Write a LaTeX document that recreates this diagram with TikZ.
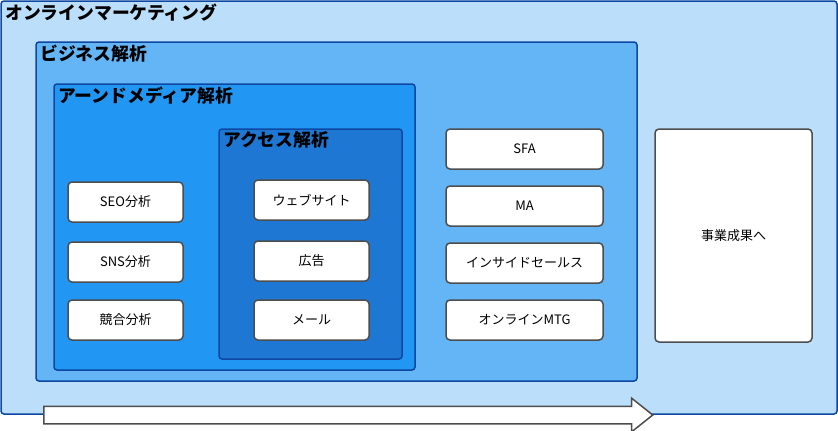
\documentclass[tikz,border=0pt]{standalone}
\usepackage{fontspec}
\setmainfont{Noto Sans CJK JP}
\usetikzlibrary{shapes.arrows}
\definecolor{outerfill}{HTML}{BBDEFB}
\definecolor{bizfill}{HTML}{64B5F6}
\definecolor{earnfill}{HTML}{2196F3}
\definecolor{accfill}{HTML}{1E78D3}
\definecolor{frame}{HTML}{0D47A1}
\definecolor{boxline}{HTML}{4D4D4D}
\begin{document}
\begin{tikzpicture}[x=1pt,y=-1pt,
  container/.style={draw=frame, line width=1.5pt, rounded corners=3pt, inner sep=0pt},
  item/.style={draw=boxline, fill=white, line width=1.5pt, rounded corners=4pt, inner sep=0pt, font=\fontsize{13}{15}\selectfont},
  title/.style={anchor=west, inner sep=0pt, font=\fontsize{17.8}{20}\selectfont\bfseries}]
\useasboundingbox (0,0) rectangle (838,431);
% containers
\node[container, fill=outerfill, minimum width=836pt, minimum height=413pt] (outer) at (419,207.5) {};
\node[container, fill=bizfill, minimum width=601pt, minimum height=339pt] (biz) at (336.5,211.5) {};
\node[container, fill=earnfill, minimum width=361pt, minimum height=286pt] (earn) at (234.5,227) {};
\node[container, fill=accfill, minimum width=183pt, minimum height=230pt] (acc) at (310.5,244) {};
% titles
\node[title] (t1) at (5,13) {オンラインマーケティング};
\node[title] (t2) at (40,54) {ビジネス解析};
\node[title] (t3) at (58,96) {アーンドメディア解析};
\node[title] (t4) at (223,140) {アクセス解析};
% earned media items
\node[item, minimum width=115pt, minimum height=40pt] (seo) at (125.5,202) {SEO分析};
\node[item, minimum width=115pt, minimum height=40pt] (sns) at (125.5,262) {SNS分析};
\node[item, minimum width=115pt, minimum height=40pt] (comp) at (125.5,320) {競合分析};
% access items
\node[item, minimum width=115pt, minimum height=40pt] (web) at (311.5,200) {ウェブサイト};
\node[item, minimum width=115pt, minimum height=40pt] (ad) at (311.5,261) {広告};
\node[item, minimum width=115pt, minimum height=40pt] (mail) at (311.5,320) {メール};
% business items
\node[item, minimum width=157pt, minimum height=40pt] (sfa) at (524.5,149) {SFA};
\node[item, minimum width=157pt, minimum height=40pt] (ma) at (524.5,206) {MA};
\node[item, minimum width=157pt, minimum height=40pt] (is) at (524.5,263) {インサイドセールス};
\node[item, minimum width=157pt, minimum height=40pt] (mtg) at (524.5,320) {オンラインMTG};
% result
\node[item, minimum width=157pt, minimum height=213pt] (res) at (733.5,235.5) {事業成果へ};
% arrow
\node[single arrow, draw=boxline, fill=white, line width=1.5pt, inner xsep=0pt, inner ysep=8pt,
  minimum height=609pt, minimum width=32pt, single arrow head extend=8pt,
  single arrow tip angle=77, anchor=tail] (arr) at (43,415) {};
\end{tikzpicture}
\end{document}
